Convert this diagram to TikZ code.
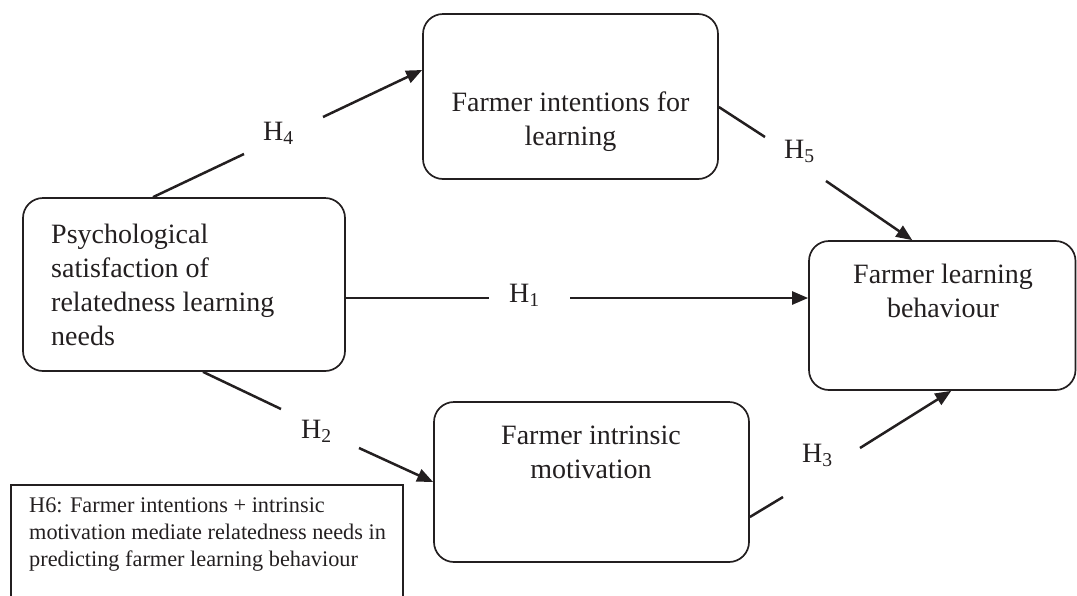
\documentclass[tikz,border=0pt]{standalone}
\usepackage{fontspec}
\setmainfont{Liberation Serif}
\usetikzlibrary{arrows.meta}
\definecolor{ink}{RGB}{35,31,32}
\begin{document}
\begin{tikzpicture}[x=1pt,y=-1pt,
  box/.style={draw=ink,line width=1.7pt,rounded corners=20pt,inner sep=0pt},
  frame/.style={draw=ink,line width=1.4pt,inner sep=0pt},
  txt/.style={font=\fontsize{28}{34}\selectfont,text=ink,inner sep=0pt},
  small/.style={font=\fontsize{22.3}{27}\selectfont,text=ink,inner sep=0pt},
  hyp/.style={font=\fontsize{28}{34}\selectfont,text=ink,inner sep=0pt,anchor=base west},
  conn/.style={draw=ink,line width=2.5pt},
  arr/.style={conn,-{Triangle[length=16pt,width=13pt]}}]
\clip (0,0) rectangle (1077,595);
% boxes
\node[box,minimum width=322pt,minimum height=173pt] (psy) at (184,284.5) {};
\node[box,minimum width=295pt,minimum height=165pt] (int) at (570.5,96.5) {};
\node[box,minimum width=266.5pt,minimum height=149pt] (beh) at (942.25,315.5) {};
\node[box,minimum width=315pt,minimum height=160pt] (mot) at (591.5,482) {};
\node[frame,minimum width=392pt,minimum height=150pt] (h6box) at (207,560) {};
% texts
\node[txt,align=left,anchor=north west] (psyt) at (51,224) {Psychological\\satisfaction of\\relatedness learning\\needs};
\node[txt,align=center,anchor=north] (intt) at (570.5,92) {Farmer intentions for\\learning};
\node[txt,align=center,anchor=north] (beht) at (943,264) {Farmer learning\\behaviour};
\node[txt,align=center,anchor=north] (mott) at (591,426) {Farmer intrinsic\\motivation};
\node[small,align=left,anchor=north west] (h6t) at (29,497.8) {H6: Farmer intentions + intrinsic\\motivation mediate relatedness needs in\\predicting farmer learning behaviour};
% hypothesis labels
\node[hyp] (h4) at (263,140) {H\textsubscript{4}};
\node[hyp] (h5) at (784,158) {H\textsubscript{5}};
\node[hyp] (h1) at (509,302) {H\textsubscript{1}};
\node[hyp] (h2) at (301,438) {H\textsubscript{2}};
\node[hyp] (h3) at (802,462) {H\textsubscript{3}};
% connector break points
\coordinate (h4a) at (244,154);
\coordinate (h4b) at (323,117);
\coordinate (h5a) at (765,137);
\coordinate (h5b) at (826,181);
\coordinate (h1a) at (489,298);
\coordinate (h1b) at (570,298);
\coordinate (h2a) at (281,409);
\coordinate (h2b) at (359,448);
\coordinate (h3a) at (783,497);
\coordinate (h3b) at (860,448);
% connectors
\draw[conn] ([xshift=-31pt]psy.north) -- (h4a);
\draw[arr] (h4b) -- ([yshift=26.5pt]int.west);
\draw[conn] ([yshift=-10.5pt]int.east) -- (h5a);
\draw[arr] (h5b) -- ([xshift=-30pt]beh.north);
\draw[conn] ([yshift=-13.5pt]psy.east) -- (h1a);
\draw[arr] (h1b) -- ([yshift=17.5pt]beh.west);
\draw[conn] ([xshift=19pt]psy.south) -- (h2a);
\draw[arr] (h2b) -- (mot.west);
\draw[conn] ([yshift=-35pt]mot.east) -- (h3a);
\draw[arr] (h3b) -- ([xshift=9pt]beh.south);
\end{tikzpicture}
\end{document}
